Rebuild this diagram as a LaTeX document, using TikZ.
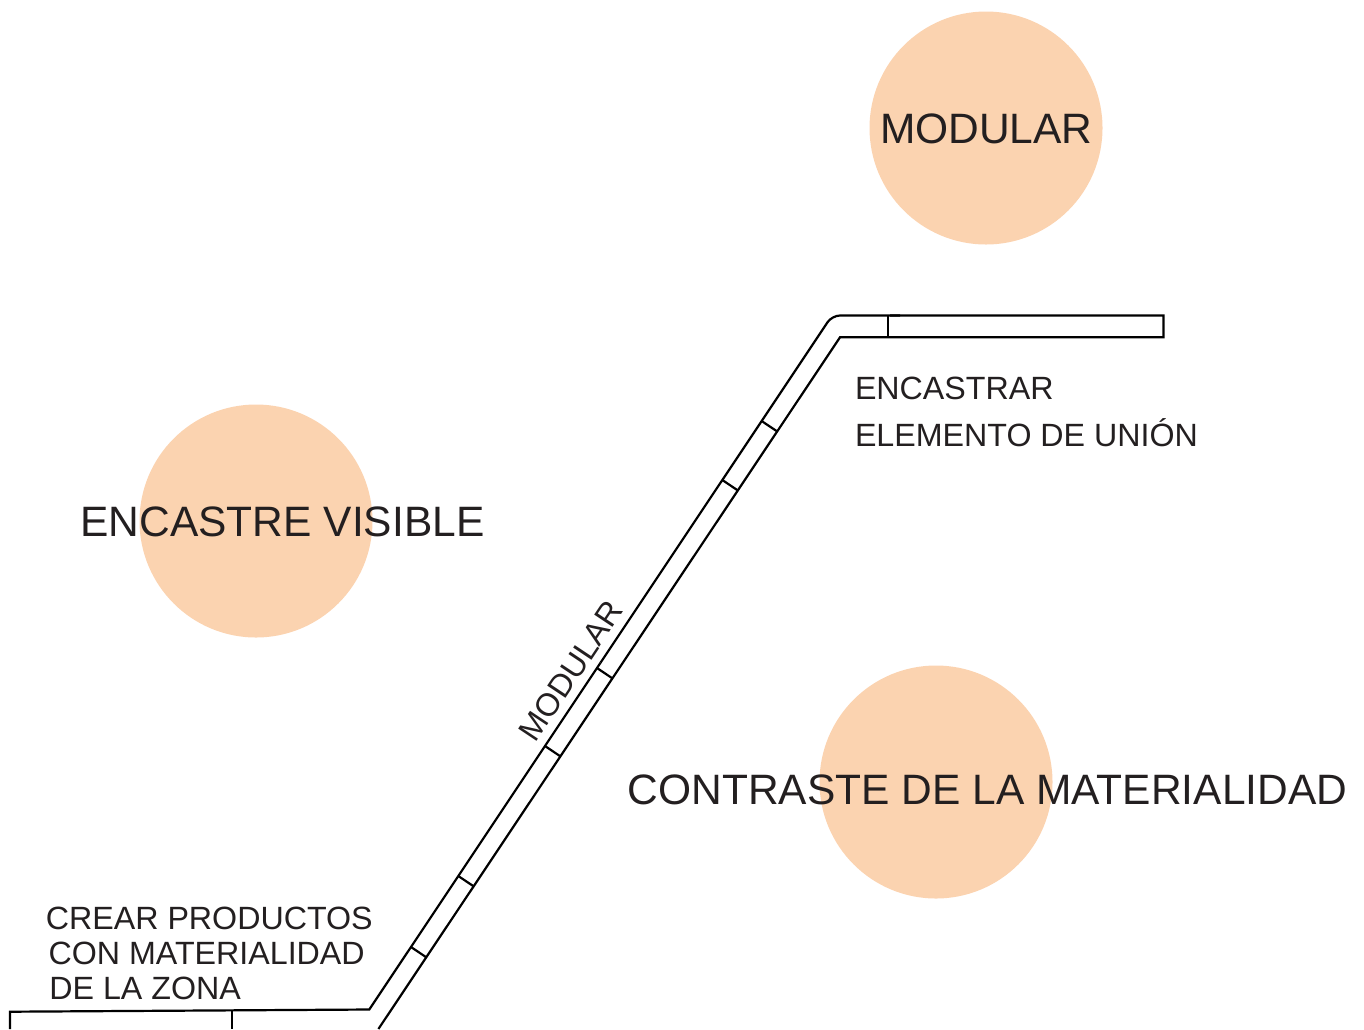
\documentclass[tikz,border=0pt]{standalone}
\usepackage{fontspec}
\setmainfont{Liberation Sans}
\usetikzlibrary{calc}
\definecolor{peach}{HTML}{FBD3B0}
\definecolor{ink}{HTML}{231F20}
\begin{document}
\begin{tikzpicture}[x=1pt,y=-1pt,
  blob/.style={circle,fill=peach,minimum size=233pt,inner sep=0pt},
  bigtxt/.style={inner sep=0pt,text=ink,font=\fontsize{42.5}{50}\selectfont,anchor=base},
  smalltxt/.style={inner sep=0pt,text=ink,font=\fontsize{32.2}{38}\selectfont,anchor=base west},
  wall/.style={draw=black,line width=2.2pt,line join=miter}]
\useasboundingbox (0,0) rectangle (1364,1029);
% circles
\node[blob] (c1) at (986,128) {};
\node[blob] (c2) at (256,521) {};
\node[blob] (c3) at (936,782) {};
% big labels
\node[bigtxt] (t1) at (986.4,143.3) {MODULAR};
\node[bigtxt] (t2) at (282.5,536.7) {ENCASTRE VISIBLE};
\node[bigtxt] (t3) at (987.5,804) {CONTRASTE DE LA MATERIALIDAD};
% small labels
\node[smalltxt] (s1) at (854.8,399.3) {ENCASTRAR};
\node[smalltxt] (s2) at (854.8,446) {ELEMENTO DE UNIÓN};
\node[smalltxt] (s3) at (45.7,929) {CREAR PRODUCTOS};
\node[smalltxt] (s4) at (48.4,964) {CON MATERIALIDAD};
\node[smalltxt] (s5) at (49.2,999) {DE LA ZONA};
\node[inner sep=0pt,text=ink,font=\fontsize{32}{38}\selectfont,rotate=56.31] (s6) at (571,671) {MODULAR};
% strip geometry
\coordinate (a0) at (10,1029);
\coordinate (a1) at (10,1011.7);
\coordinate (a2) at (369.3,1009.5);
\coordinate (a3) at (832,315.5);
\coordinate (a4) at (1163.5,315.5);
\coordinate (a5) at (1163.5,337.3);
\coordinate (a6) at (840,337.3);
\coordinate (a7) at (378.4,1029);
\coordinate (m) at ($(a2)!0.5!(a3)$);
\draw[wall] (a0) -- (a1) -- (a2) -- (m);
\draw[wall,rounded corners=8pt] (m) -- (a3) -- (900,315.5);
\draw[wall] (890,315.5) -- (a4) -- (a5) -- (a6) -- (a7);
% dividers
\draw[wall] (232.3,1010.5) -- (232.3,1029);
\draw[wall] (888.3,315.5) -- (888.3,337.3);
% ticks across diagonal strip
\foreach \yy in {421,480,668,746,876,947} {
  \draw[wall] ({369.3+(1009.5-\yy)*2/3},\yy) -- ++(15.2,10.2);
}
\end{tikzpicture}
\end{document}
